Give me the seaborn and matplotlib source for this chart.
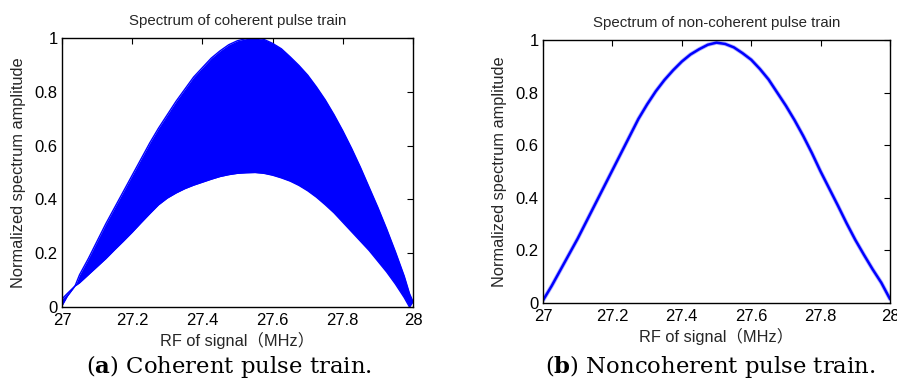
import numpy as np
import pandas as pd
import matplotlib
matplotlib.use("Agg")
import matplotlib.pyplot as plt
import seaborn as sns

# ---- data ----
freq_coh = [27.000, 27.015, 27.037, 27.050, 27.075, 27.100, 27.125, 27.150, 27.175, 27.200,
            27.225, 27.250, 27.275, 27.300, 27.325, 27.350, 27.375, 27.400, 27.425, 27.450,
            27.475, 27.500, 27.525, 27.550, 27.575, 27.600, 27.625, 27.650, 27.675, 27.700,
            27.725, 27.750, 27.775, 27.800, 27.825, 27.850, 27.875, 27.900, 27.925, 27.950,
            27.975, 27.990, 28.000]
upper_coh = [0.03, 0.05, 0.078, 0.12, 0.18, 0.245, 0.31, 0.37, 0.43, 0.49,
             0.55, 0.61, 0.665, 0.715, 0.765, 0.81, 0.855, 0.89, 0.925, 0.952,
             0.975, 0.99, 0.998, 1.0, 0.995, 0.98, 0.96, 0.93, 0.898, 0.862,
             0.818, 0.77, 0.715, 0.655, 0.59, 0.52, 0.445, 0.37, 0.29, 0.205,
             0.115, 0.05, 0.02]
lower_coh = [0.005, 0.04, 0.078, 0.09, 0.12, 0.15, 0.18, 0.213, 0.245, 0.278,
             0.313, 0.347, 0.38, 0.405, 0.424, 0.44, 0.453, 0.464, 0.475, 0.485,
             0.492, 0.497, 0.499, 0.50, 0.497, 0.49, 0.48, 0.468, 0.452, 0.432,
             0.408, 0.38, 0.35, 0.315, 0.28, 0.245, 0.21, 0.17, 0.13, 0.085,
             0.035, 0.0, 0.02]

freq_non = [27.000, 27.025, 27.050, 27.075, 27.100, 27.125, 27.150, 27.175, 27.200, 27.225,
            27.250, 27.275, 27.300, 27.325, 27.350, 27.375, 27.400, 27.425, 27.450, 27.475,
            27.500, 27.525, 27.550, 27.575, 27.600, 27.625, 27.650, 27.675, 27.700, 27.725,
            27.750, 27.775, 27.800, 27.825, 27.850, 27.875, 27.900, 27.925, 27.950, 27.975,
            28.000]
amp_non = [0.01, 0.065, 0.125, 0.185, 0.245, 0.31, 0.375, 0.44, 0.505, 0.57,
           0.635, 0.70, 0.755, 0.805, 0.848, 0.885, 0.918, 0.945, 0.965, 0.982,
           0.99, 0.985, 0.972, 0.95, 0.925, 0.89, 0.85, 0.80, 0.75, 0.695,
           0.635, 0.57, 0.50, 0.435, 0.37, 0.303, 0.24, 0.183, 0.128, 0.077,
           0.015]

xticks = [27, 27.2, 27.4, 27.6, 27.8, 28]
xticklabels = ["27", "27.2", "27.4", "27.6", "27.8", "28"]
yticks = [0, 0.2, 0.4, 0.6, 0.8, 1]
yticklabels = ["0", "0.2", "0.4", "0.6", "0.8", "1"]

titles = ["Spectrum of coherent pulse train", "Spectrum of non-coherent pulse train"]
xlabel = "RF of signal（MHz）"
ylabel = "Normalized spectrum amplitude"
captions = [("a", "Coherent pulse train."), ("b", "Noncoherent pulse train.")]

# ---- style ----
sns.set_theme(style="white")
plt.rcParams["font.family"] = ["Liberation Sans", "Noto Sans CJK SC", "DejaVu Sans"]
plt.rcParams["xtick.direction"] = "in"
plt.rcParams["ytick.direction"] = "in"

W, H = 897, 387
fig = plt.figure(figsize=(W / 100, H / 100), dpi=100)
axA = fig.add_axes([62 / W, 1 - 307 / H, (413 - 62) / W, (307 - 38) / H])
axB = fig.add_axes([543 / W, 1 - 303 / H, (890 - 543) / W, (303 - 40) / H])

df_coh = pd.DataFrame({"f": freq_coh, "up": upper_coh, "lo": lower_coh})
df_non = pd.DataFrame({"f": freq_non, "a": amp_non})

blue = "#0000FF"
axA.fill_between(df_coh["f"], df_coh["lo"], df_coh["up"], color=blue, linewidth=0)
sns.lineplot(data=df_coh, x="f", y="up", ax=axA, color=blue, linewidth=1.0)
sns.lineplot(data=df_coh, x="f", y="lo", ax=axA, color=blue, linewidth=1.0)

sns.lineplot(data=df_non, x="f", y="a", ax=axB, color="#6a6aff", linewidth=3.0, alpha=0.5)
sns.lineplot(data=df_non, x="f", y="a", ax=axB, color=blue, linewidth=1.8)

for ax, title in zip([axA, axB], titles):
    ax.set_xlim(27, 28)
    ax.set_ylim(0, 1)
    ax.set_xticks(xticks)
    ax.set_xticklabels(xticklabels)
    ax.set_yticks(yticks)
    ax.set_yticklabels(yticklabels)
    ax.tick_params(axis="both", which="both", direction="in", length=4, width=0.8,
                   top=True, right=True, labelsize=12, colors="black")
    ax.tick_params(axis="x", pad=4)
    ax.tick_params(axis="y", pad=3)
    for s in ax.spines.values():
        s.set_visible(True)
        s.set_color("black")
        s.set_linewidth(1.0)
    ax.set_title(title, fontsize=10.8, pad=9)
    ax.set_xlabel(xlabel, fontsize=11.8, labelpad=3)
    ax.set_ylabel(ylabel, fontsize=11.8, labelpad=6)
    ax.grid(False)

# captions (serif, with bold letter)
plt.rcParams["mathtext.fontset"] = "dejavuserif"
for (letter, text), xc in zip(captions, [229 / W, 710 / W]):
    fig.text(xc, 1 - 367 / H, r"($\mathbf{" + letter + r"}$) " + text,
             ha="center", va="center", fontsize=16.4, family="DejaVu Serif",
             color="black", math_fontfamily="dejavuserif")

fig.savefig("out.png", dpi=100)
